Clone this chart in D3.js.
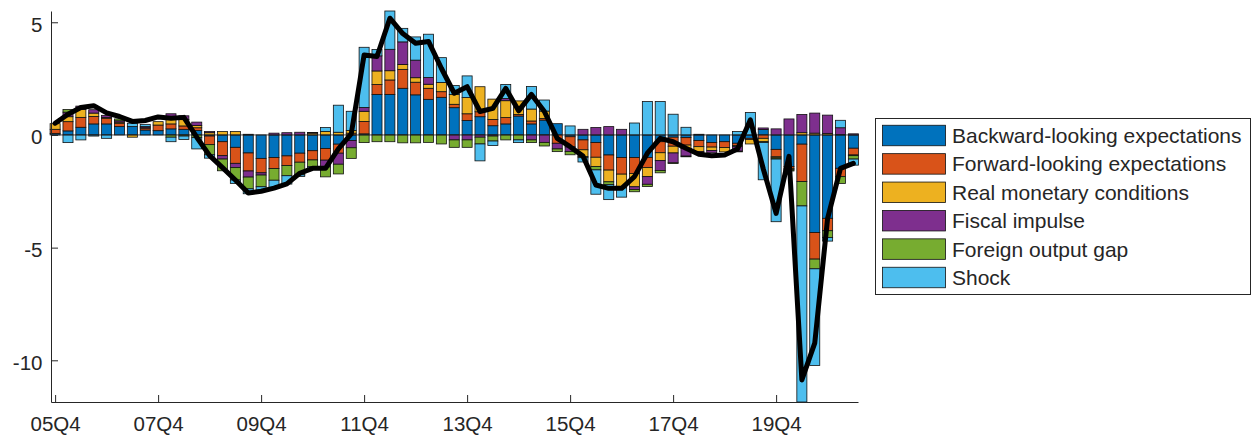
<!DOCTYPE html>
<html>
<head>
<meta charset="utf-8">
<script src="https://cdn.jsdelivr.net/npm/d3@7"></script>
<style>
  body { margin: 0; background: #fff; }
  svg { display: block; }
  text { font-family: "Liberation Sans", Arial, Helvetica, sans-serif; fill: #262626; }
</style>
</head>
<body>
<svg id="chart" width="1252" height="435"></svg>
<script>
// Quarters shown on the horizontal axis
const quarters = [
  "05Q4","06Q1","06Q2","06Q3","06Q4","07Q1","07Q2","07Q3","07Q4",
  "08Q1","08Q2","08Q3","08Q4","09Q1","09Q2","09Q3","09Q4",
  "10Q1","10Q2","10Q3","10Q4","11Q1","11Q2","11Q3","11Q4",
  "12Q1","12Q2","12Q3","12Q4","13Q1","13Q2","13Q3","13Q4",
  "14Q1","14Q2","14Q3","14Q4","15Q1","15Q2","15Q3","15Q4",
  "16Q1","16Q2","16Q3","16Q4","17Q1","17Q2","17Q3","17Q4",
  "18Q1","18Q2","18Q3","18Q4","19Q1","19Q2","19Q3","19Q4",
  "20Q1","20Q2","20Q3","20Q4","21Q1","21Q2"
];
const tickLabels = ["05Q4","07Q4","09Q4","11Q4","13Q4","15Q4","17Q4","19Q4"];
const yTicks = [5, 0, -5, -10];

// Contributions (percentage points)
const backward = [0.07,0.18,0.34,0.49,0.49,0.37,0.37,0.22,0.19,0.27,0.25,0.2,-0.05,-0.3,-0.55,-0.8,-1.04,-1.0,-0.93,-0.81,-0.7,-0.6,-0.41,-0.25,0.05,1.8,1.8,2.07,1.78,1.58,1.67,1.21,0.64,0.81,0.41,0.49,0.84,0.49,0.66,0.5,-0.08,-0.22,-0.34,-0.89,-1.0,-1.0,-1.0,-0.3,-0.1,-0.12,-0.25,-0.34,-0.3,-0.37,-0.15,0.24,-0.64,-1.4,-0.41,-4.33,-3.7,-1.48,-0.59];
const forward = [0.18,0.41,0.44,0.33,0.25,0.15,0,0.08,0.25,0.22,0.15,0.12,-0.38,-0.62,-0.71,-0.8,-0.64,-0.49,-0.43,-0.4,-0.41,-0.52,-0.4,0.08,0.55,0.44,0.64,0.84,0.56,0.49,0.25,0.15,0.3,0.22,0.28,0.28,0.07,0.13,0.07,-0.37,-0.45,-0.44,-0.65,-0.67,-0.74,-0.71,-0.45,-0.49,-0.4,-0.33,-0.27,-0.2,-0.26,-0.1,-0.05,-0.15,-0.33,-0.1,-1.66,-1.18,-0.55,-0.37,-0.3];
const realMonetary = [0.25,0.22,0.35,0.15,0.03,0.05,-0.1,0.02,0.15,0.3,0.28,0.1,0.1,0.15,0.15,0.03,0,0,0,0,0.08,0.15,0.12,0.12,0.45,0.6,0.41,0.22,0.2,0.18,0.41,0.43,0.72,1.11,0.9,0.75,0.6,0.53,0.33,0,0,-0.3,-0.41,-0.52,-0.56,-0.59,-0.4,-0.35,-0.3,-0.15,-0.22,-0.15,-0.19,-0.05,-0.2,-0.15,-0.05,-0.05,0.1,0.08,0.07,0.02,-0.03];
const fiscal = [0,0.2,0.15,0.15,0.1,0.06,0,0.05,0,0.15,0.17,0.15,0.05,-0.15,-0.19,-0.27,-0.1,0.08,0.1,0.12,0.03,-0.3,-0.49,-0.32,0.17,0.67,0.95,1.0,0.78,0.3,0,-0.22,-0.22,-0.1,-0.05,0.1,0,-0.22,-0.33,-0.25,-0.2,0.25,0.33,0.37,0.25,-0.12,-0.34,-0.44,-0.44,-0.34,-0.05,-0.1,0,-0.2,0,0.07,0.27,0.71,0.81,0.89,0.81,0.3,0.05];
const foreignGap = [0,0.12,0,0,0,0.08,0,0,0,-0.1,-0.05,-0.12,-0.45,-0.52,-0.55,-0.52,-0.52,-0.52,-0.45,-0.56,-0.3,-0.44,-0.43,-0.47,-0.34,-0.3,-0.3,-0.35,-0.35,-0.33,-0.4,-0.33,-0.33,-0.3,-0.22,-0.22,-0.22,-0.12,-0.16,-0.12,-0.15,-0.05,-0.15,-0.12,-0.05,-0.1,-0.1,-0.1,-0.03,-0.03,-0.03,0,0,-0.03,0,-0.03,-0.05,-0.05,-1.08,-0.43,-0.3,-0.3,-0.15];
const shock = [0,-0.34,-0.22,-0.05,-0.15,0,0.15,0.1,0,-0.2,-0.15,-0.5,-0.15,0,-0.15,-0.22,-0.15,-0.35,-0.37,-0.07,-0.1,0.18,1.2,0.85,2.67,0.28,1.7,0.6,1.03,1.92,1.1,0.4,0.96,-0.75,-0.2,0.62,-0.12,1.0,0.49,0,0.4,-0.19,-1.08,-0.67,-0.41,0.53,1.48,1.48,0.92,0.34,0.03,0,0,0.15,1.0,-1.66,-2.78,0,-8.7,-4.29,-0.16,0.33,-0.27];
// Observed series drawn as the black line
const observed = [0.52,0.92,1.22,1.3,0.98,0.82,0.6,0.64,0.8,0.74,0.78,-0.1,-0.92,-1.45,-2.0,-2.58,-2.5,-2.36,-2.17,-1.7,-1.48,-1.48,-0.62,0.05,3.55,3.48,5.18,4.5,4.07,4.15,2.96,1.85,2.14,1.04,1.18,2.07,1.07,1.8,1.04,-0.15,-0.52,-0.94,-2.22,-2.37,-2.37,-1.85,-0.81,-0.15,-0.3,-0.59,-0.86,-0.92,-0.89,-0.62,0.67,-1.5,-3.48,-0.95,-10.87,-9.24,-3.7,-1.48,-1.26];

const seriesNames = ["Backward-looking expectations","Forward-looking expectations","Real monetary conditions","Fiscal impulse","Foreign output gap","Shock"];
const seriesColors = ["#0072BD","#D95319","#EDB120","#7E2F8E","#77AC30","#4DBEEE"];
const seriesData = [backward, forward, realMonetary, fiscal, foreignGap, shock];

const keys = seriesNames;
const rows = quarters.map((q, i) => {
  const r = { idx: i, q };
  keys.forEach((k, s) => r[k] = seriesData[s][i]);
  return r;
});

const svg = d3.select("#chart");

const x = d3.scaleLinear().domain([-0.32, 62.36]).range([51, 858]);
const y = d3.scaleLinear().domain([-11.85, 5.5]).range([402, 11]);
const barW = 0.78 * (x(1) - x(0));

// Positive and negative contributions stack away from zero separately
const stacked = d3.stack().keys(keys).offset(d3.stackOffsetDiverging)(rows);

const color = d3.scaleOrdinal().domain(keys).range(seriesColors);

const plot = svg.append("g");
stacked.forEach(layer => {
  plot.append("g")
    .attr("fill", color(layer.key))
    .attr("stroke", "#111")
    .attr("stroke-width", 0.8)
    .selectAll("rect")
    .data(layer.filter(d => d[1] !== d[0]))
    .join("rect")
    .attr("x", d => x(d.data.idx) - barW / 2)
    .attr("width", barW)
    .attr("y", d => y(Math.max(d[0], d[1])))
    .attr("height", d => Math.abs(y(d[0]) - y(d[1])));
});

// Zero baseline
svg.append("line")
  .attr("x1", x.range()[0]).attr("x2", x.range()[1])
  .attr("y1", y(0)).attr("y2", y(0))
  .attr("stroke", "#262626").attr("stroke-width", 0.8);

// Observed line
svg.append("path")
  .datum(observed)
  .attr("fill", "none")
  .attr("stroke", "#000")
  .attr("stroke-width", 5)
  .attr("stroke-linejoin", "round")
  .attr("stroke-linecap", "round")
  .attr("d", d3.line().x((d, i) => x(i)).y(d => y(d)));

// Axes (ticks point inward)
const yAxis = d3.axisLeft(y).tickValues(yTicks).tickFormat(d => String(d))
  .tickSizeInner(-7).tickSizeOuter(0).tickPadding(8.5);
const gy = svg.append("g").attr("transform", `translate(${x.range()[0]},0)`).call(yAxis);
gy.selectAll(".tick text").attr("dy", "0.44em");

const tickIdx = tickLabels.map(t => quarters.indexOf(t));
const xAxis = d3.axisBottom(x).tickValues(tickIdx).tickFormat((d, i) => tickLabels[i])
  .tickSizeInner(-7).tickSizeOuter(0).tickPadding(14);
const gx = svg.append("g").attr("transform", `translate(0,${y.range()[0]})`).call(xAxis);

[gx, gy].forEach(g => {
  g.select(".domain").attr("stroke", "#262626");
  g.selectAll(".tick line").attr("stroke", "#262626");
  g.selectAll(".tick text").attr("fill", "#262626")
    .style("font-size", "20.5px")
    .style("font-family", "'Liberation Sans', Arial, Helvetica, sans-serif");
});

// Legend
const legend = svg.append("g");
legend.append("rect")
  .attr("x", 875.5).attr("y", 118.5).attr("width", 375).attr("height", 176)
  .attr("fill", "#fff").attr("stroke", "#262626").attr("stroke-width", 1);
seriesNames.forEach((name, i) => {
  const cy = 135.5 + i * 28.4;
  legend.append("rect")
    .attr("x", 882.5).attr("y", cy - 10.25).attr("width", 63).attr("height", 20.5)
    .attr("fill", seriesColors[i]).attr("stroke", "#111").attr("stroke-width", 0.8);
  legend.append("text")
    .attr("x", 952).attr("y", cy + 7.5)
    .style("font-size", "21px")
    .text(name);
});
</script>
</body>
</html>
